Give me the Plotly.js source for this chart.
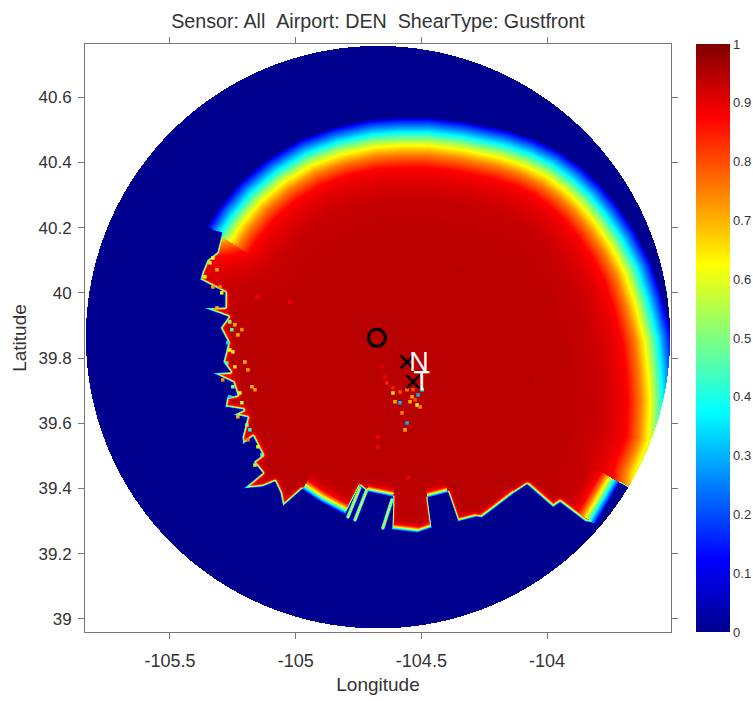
<!DOCTYPE html>
<html><head><meta charset="utf-8">
<script src="https://cdn.plot.ly/plotly-3.0.1.min.js"></script>
<style>html,body{margin:0;padding:0;background:#fff}#plot{width:753px;height:701px}.hm image{filter:blur(0.7px)}</style>
</head><body><div id="plot"></div>
<script>
// Axis windows and tick labels
const lonRange = [-105.838, -103.507];
const latRange = [38.96, 40.763];
const lonTicks = [-105.5, -105, -104.5, -104];
const latTicks = [39, 39.2, 39.4, 39.6, 39.8, 40, 40.2, 40.4, 40.6];
const cbTicks = [0, 0.1, 0.2, 0.3, 0.4, 0.5, 0.6, 0.7, 0.8, 0.9, 1];

// Radar coverage disc
const discLon = -104.6725, discLat = 39.864, discRLon = 1.162, discRLat = 0.893;

// Coverage boundary, with the softness of the falloff along each edge
const edgeLon = [-104.704,-104.585,-104.466,-104.326,-104.155,-104.048,-103.948,-103.861,-103.785,-103.717,-103.650,-103.586,-103.542,-103.503,-103.487,-103.479,-103.487,-103.543,-103.678,-103.710,-103.805,
 -103.849,-103.948,-103.976,-104.080,-104.127,-104.227,-104.259,-104.279,-104.354,-104.394,-104.474,-104.458,-104.517,-104.617,-104.613,-104.717,-104.745,-104.804,-104.903,-104.975,-105.051,-105.063,-105.083,-105.130,-105.210,-105.134,-105.170,-105.134,-105.170,-105.210,-105.214,-105.194,-105.250,-105.210,-105.282,-105.274,-105.234,-105.250,-105.333,-105.262,-105.290,-105.270,-105.301,-105.270,-105.369,-105.282,-105.282,-105.381,-105.373,-105.353,-105.313,-105.294,-105.333,
 -105.353,-105.301,-105.222,-105.114,-104.983,-104.852];
const edgeLat = [40.531,40.537,40.537,40.524,40.497,40.469,40.432,40.383,40.328,40.264,40.187,40.092,39.988,39.871,39.764,39.666,39.528,39.423,39.402,39.417,39.292,
 39.298,39.356,39.341,39.411,39.387,39.328,39.310,39.313,39.298,39.387,39.371,39.279,39.264,39.273,39.374,39.390,39.408,39.319,39.359,39.396,39.344,39.387,39.420,39.405,39.399,39.448,39.482,39.503,39.558,39.534,39.558,39.617,39.626,39.641,39.650,39.681,39.687,39.724,39.755,39.758,39.788,39.847,39.893,39.926,39.954,39.957,40.000,40.040,40.064,40.101,40.126,40.184,40.193,
 40.202,40.264,40.337,40.408,40.469,40.506];
const edgeSoft = [1,1,1,1,1,1,1,1,1,1,1,1,1,1,1,1,1,.04,.04,.43,.08,
 .08,.08,.08,.06,.08,.08,.06,.08,.05,.12,.04,.1,.12,.04,.12,.05,.04,.22,.22,.06,.06,.06,.06,.06,.06,.06,.06,.06,.06,.06,.06,.06,.06,.06,.06,.06,.06,.06,.06,.06,.06,.06,.06,.06,.06,.06,.06,.06,.06,.06,.06,.06,.6,
 .99,1,1,1,1,1];

// Probability against distance inside the coverage edge (screen-scale units)
const falloffDist = [0,2,15,21,28,37,50,60,80,110,160];
const falloffProb = [.01,.125,.375,.5,.625,.75,.875,.9,.93,.94,.945];

// Narrow radial streaks south of the airport
const streakLon1 = [-104.792,-104.764,-104.653];
const streakLat1 = [39.313,39.304,39.279];
const streakLon2 = [-104.745,-104.717,-104.617];
const streakLat2 = [39.402,39.396,39.365];

// Isolated low-probability cells
const speckLon = [-104.645,-104.657,-104.613,-104.605,-104.585,-104.557,-104.537,-104.513,-104.497,-104.545,-104.517,-104.505,-104.585,-104.577,-104.557,-104.565,-104.673,-104.673,-104.525,-104.613,-104.533,-104.637,-104.553,-105.242,-105.214,-105.230,-105.202,-105.190,-105.174,-105.162,-105.154,-105.023,-105.250,
 -105.329,-105.341,-105.313,-105.361,-105.301,-105.329,-105.294,-105.313,-105.262,-105.254,-105.270,-105.262,-105.274,-105.242,-105.290,-105.250,-105.222,-105.262,-105.214,-105.230,-105.194,-105.182,-105.190,-105.150,-105.134,-105.162];
const speckLat = [39.742,39.773,39.693,39.666,39.696,39.703,39.681,39.687,39.703,39.666,39.656,39.650,39.663,39.632,39.601,39.580,39.558,39.528,39.672,39.709,39.703,39.724,39.433,39.902,39.887,39.871,39.788,39.764,39.712,39.703,39.988,39.972,39.819,
 40.107,40.092,40.071,40.049,40.018,40.018,40.000,39.954,39.911,39.887,39.847,39.825,39.785,39.773,39.733,39.712,39.693,39.681,39.663,39.620,39.595,39.580,39.549,39.528,39.503,39.472];
const speckProb = [.88,.9,.65,.7,.8,.75,.7,.3,.4,.7,.6,.75,.3,.75,.3,.7,.88,.88,.8,.85,.8,.85,.88,.7,.72,.7,.7,.72,.7,.72,.88,.88,.65,
 .62,.55,.7,.6,.75,.72,.65,.7,.5,.45,.35,.6,.45,.65,.75,.5,.6,.35,.55,.7,.5,.4,.75,.6,.45,.55];

// Jet colour scale
const jetPos = [0,.125,.375,.625,.875,1];
const jetCol = ['rgb(0,0,143)','rgb(0,0,255)','rgb(0,255,255)','rgb(255,255,0)','rgb(255,0,0)','rgb(128,0,0)'];
const jet = jetPos.map((p,i)=>[p,jetCol[i]]);

// Markers
const ringLon = [-104.677], ringLat = [39.862];
const crossLon = [-104.557,-104.533], crossLat = [39.788,39.727];
const labelText = ['N','T'], labelLon = [-104.509,-104.498], labelLat = [39.782,39.724];

const plotW = 586, plotH = 588;
const kx = plotW/(lonRange[1]-lonRange[0]), ky = plotH/(latRange[1]-latRange[0]);

function falloff(u){
  if(u>=falloffDist[falloffDist.length-1]) return falloffProb[falloffProb.length-1];
  for(let i=1;i<falloffDist.length;i++){
    if(u<=falloffDist[i]){
      const t=(u-falloffDist[i-1])/(falloffDist[i]-falloffDist[i-1]);
      return falloffProb[i-1]+t*(falloffProb[i]-falloffProb[i-1]);
    }
  }
}
function segNear(px,py,ax,ay,bx,by){
  const dx=bx-ax,dy=by-ay,l=dx*dx+dy*dy;
  const raw=l?((px-ax)*dx+(py-ay)*dy)/l:0; const t=Math.max(0,Math.min(1,raw));
  const qx=ax+t*dx-px,qy=ay+t*dy-py;
  return {d:Math.sqrt(qx*qx+qy*qy),raw:raw};
}
const n=edgeLon.length;
const ex=edgeLon.map(v=>v*kx), ey=edgeLat.map(v=>v*ky);
const lons=[],lats=[],z=[];
for(let i=0;i<plotW;i++) lons.push(lonRange[0]+(i+.5)/kx);
for(let j=0;j<plotH;j++) lats.push(latRange[0]+(j+.5)/ky);
for(let j=0;j<plotH;j++){
  const row=new Array(plotW).fill(null);
  const la=lats[j],py=la*ky;
  for(let i=0;i<plotW;i++){
    const lo=lons[i];
    const a=(lo-discLon)/discRLon,b=(la-discLat)/discRLat;
    if(a*a+b*b>1) continue;
    const px=lo*kx;
    let inside=false,u=1e9;
    for(let k=0;k<n;k++){
      const m=(k+1)%n;
      if((ey[k]>py)!==(ey[m]>py) && px<(ex[m]-ex[k])*(py-ey[k])/(ey[m]-ey[k])+ex[k]) inside=!inside;
      const s=segNear(px,py,ex[k],ey[k],ex[m],ey[m]);
      let soft=edgeSoft[k];
      if(soft<.995){
        if(s.raw<0) soft=Math.min(soft,edgeSoft[(k+n-1)%n]);
        else if(s.raw>1) soft=Math.min(soft,edgeSoft[m]);
      }
      const d=s.d/soft;
      if(d<u) u=d;
    }
    let v=inside?falloff(u):0;
    for(let q=0;q<streakLon1.length;q++){
      const d=segNear(px,py,streakLon1[q]*kx,streakLat1[q]*ky,streakLon2[q]*kx,streakLat2[q]*ky).d;
      if(d<2.3) v=Math.max(v,falloff((2.3-d)/.07));
    }
    row[i]=v;
  }
  z.push(row);
}

const dark='#333333', axisCol='#777777';
const fontFam='Liberation Sans, Arial, sans-serif';
const traces=[
 {type:'heatmap',x:lons,y:lats,z:z,zmin:0,zmax:1,colorscale:jet,hoverinfo:'skip',
  colorbar:{x:1.0427,xanchor:'left',xpad:0,ypad:0,y:.5,yanchor:'middle',len:1,lenmode:'fraction',thickness:34,thicknessmode:'pixels',outlinewidth:0,
   tickmode:'array',tickvals:cbTicks,ticktext:cbTicks.map(String),ticks:'',ticklabelposition:'outside',
   tickfont:{family:fontFam,size:13,color:dark}}},
 {type:'scatter',mode:'markers',x:speckLon,y:speckLat,hoverinfo:'skip',showlegend:false,
  marker:{symbol:'square',size:3.5,color:speckProb,cmin:0,cmax:1,colorscale:jet,showscale:false,line:{width:0}}},
 {type:'scatter',mode:'markers',x:ringLon,y:ringLat,hoverinfo:'skip',showlegend:false,
  marker:{symbol:'circle-open',size:17,color:'#000',line:{width:3,color:'#000'}}},
 {type:'scatter',mode:'markers',x:crossLon,y:crossLat,hoverinfo:'skip',showlegend:false,
  marker:{symbol:'x-thin-open',size:13,color:'#000',line:{width:2.5,color:'#000'}}},
 {type:'scatter',mode:'text',x:labelLon,y:labelLat,text:labelText,textposition:'middle center',hoverinfo:'skip',showlegend:false,
  textfont:{family:fontFam,size:27,color:'#fff'}}
];
const axisBase={showgrid:false,zeroline:false,showline:true,linecolor:axisCol,linewidth:1,mirror:'ticks',ticks:'outside',ticklen:6,tickcolor:axisCol,tickmode:'array'};
const layout={
 width:753,height:701,margin:{l:85,r:82,t:44,b:69,autoexpand:false},paper_bgcolor:'#fff',plot_bgcolor:'#fff',showlegend:false,
 title:{text:'Sensor: All\u00A0\u00A0Airport: DEN\u00A0\u00A0ShearType: Gustfront',x:378/753,xanchor:'center',y:1-21/701,yanchor:'middle',font:{family:fontFam,size:19.7,color:dark}},
 xaxis:Object.assign({},axisBase,{range:lonRange,tickvals:lonTicks,ticktext:lonTicks.map(String),ticklabelstandoff:6,tickfont:{family:fontFam,size:18,color:dark},title:{text:'Longitude',font:{family:fontFam,size:19,color:dark},standoff:8}}),
 yaxis:Object.assign({},axisBase,{range:latRange,tickvals:latTicks,ticktext:latTicks.map(String),ticklabelstandoff:3,tickfont:{family:fontFam,size:17,color:dark},title:{text:'Latitude',font:{family:fontFam,size:19,color:dark},standoff:6}})
};
Plotly.newPlot('plot',traces,layout,{displayModeBar:false,staticPlot:true});
</script></body></html>
